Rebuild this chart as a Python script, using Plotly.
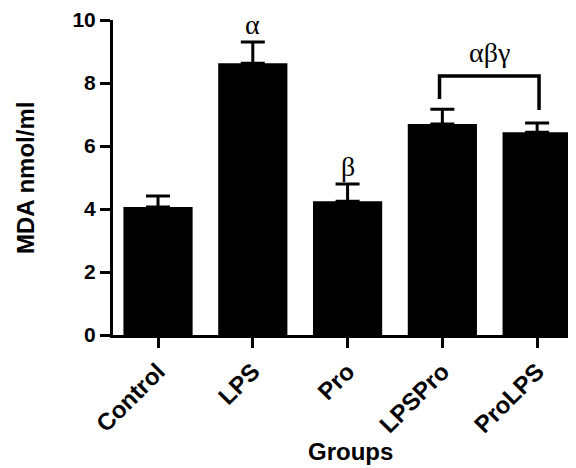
import plotly.graph_objects as go

groups = ["Control", "LPS", "Pro", "LPSPro", "ProLPS"]
mda = [4.06, 8.63, 4.25, 6.70, 6.44]
sem = [0.35, 0.67, 0.54, 0.47, 0.29]
marks = ["", "α", "β", "", ""]
bracket_label = "αβγ"
y_ticks = [0, 2, 4, 6, 8, 10]

fig = go.Figure()
fig.add_trace(go.Bar(
    x=groups, y=mda, width=0.73,
    marker=dict(color="black", line=dict(width=0)),
    error_y=dict(type="data", array=sem, arrayminus=[0]*len(sem), symmetric=False,
                 color="black", thickness=3, width=12),
))

for g, v, e, m in zip(groups, mda, sem, marks):
    if m:
        fig.add_annotation(x=g, y=v + e, text=m, showarrow=False, yanchor="bottom", yshift=0,
                           font=dict(family="Liberation Serif", size=28, color="black"))

# bracket between LPSPro and ProLPS
fig.add_shape(type="path", xref="x", yref="y",
              path=f"M 2.97 {mda[3]+sem[3]+0.32} L 2.97 8.22 L 4.02 8.22 L 4.02 {mda[4]+sem[4]+0.41}",
              line=dict(color="black", width=3.5))
fig.add_annotation(x=3.5, y=8.22, text=bracket_label, showarrow=False, yanchor="bottom", yshift=6,
                   font=dict(family="Liberation Serif", size=28, color="black"))

# axis titles
fig.add_annotation(xref="paper", yref="paper", x=(350 - 113) / 463, y=-(451 - 335) / 315,
                   text="<b>Groups</b>", showarrow=False, xanchor="center", yanchor="middle",
                   font=dict(size=24, family="Liberation Sans", color="black"))
fig.add_annotation(xref="paper", yref="paper", x=-(113 - 25) / 463, y=(335 - 178) / 315,
                   text="<b>MDA nmol/ml</b>", showarrow=False, textangle=-90,
                   xanchor="center", yanchor="middle",
                   font=dict(size=24, family="Liberation Sans", color="black"))

fig.update_layout(
    width=568, height=460,
    margin=dict(l=105, r=0, t=12, b=133, autoexpand=False),
    plot_bgcolor="white", paper_bgcolor="white",
    showlegend=False,
    font=dict(family="Liberation Sans", color="black"),
    xaxis=dict(range=[-0.475, 4.41], showline=True, linewidth=3, linecolor="black",
               ticks="outside", ticklen=10, tickwidth=3, tickcolor="black",
               tickangle=-45, tickfont=dict(size=24, family="Liberation Sans", weight="bold"),
               showgrid=False, zeroline=False, automargin=False),
    yaxis=dict(range=[0, 10], tickvals=y_ticks, showline=True, linewidth=3, linecolor="black",
               ticks="outside", ticklen=10, tickwidth=3, tickcolor="black",
               tickfont=dict(size=21, family="Liberation Sans", weight="bold"),
               showgrid=False, zeroline=False, automargin=False),
)

fig.write_html("out.html")
